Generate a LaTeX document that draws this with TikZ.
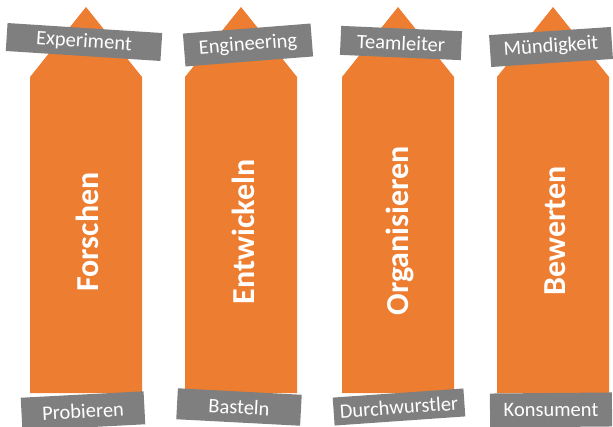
\documentclass[tikz,border=0pt]{standalone}
\usepackage{fontspec}
\setmainfont{Carlito}
\definecolor{pencilorange}{RGB}{237,125,49}
\definecolor{taggray}{RGB}{127,127,127}

\begin{document}
\begin{tikzpicture}[
            x=1pt, y=-1pt,
            pencil/.style={fill=pencilorange, draw=none},
            verb/.style={rotate=90, text=white, font=\fontsize{32}{38}\selectfont\bfseries},
            tag/.style={fill=taggray, text=white, font=\fontsize{20.5}{24}\selectfont, minimum width=122pt, minimum height=30pt, inner sep=0pt}
        ]
            \useasboundingbox (0,0) rectangle (613,426);

            % upright arrows
            \fill[pencil] (30,393) -- (30,77) -- (86,7) -- (142,77) -- (142,393) -- cycle;
            \fill[pencil] (185,393) -- (185,77) -- (241,7) -- (297,77) -- (297,393) -- cycle;
            \fill[pencil] (342,393) -- (342,77) -- (398,7) -- (454,77) -- (454,393) -- cycle;
            \fill[pencil] (497,393) -- (497,77) -- (553,7) -- (609,77) -- (609,393) -- cycle;

            \node[verb] (forschen) at (87,232) {Forschen};
            \node[verb] (entwickeln) at (243,232) {Entwickeln};
            \node[verb] (organisieren) at (400,231) {Organisieren};
            \node[verb] (bewerten) at (555,231) {Bewerten};

            % tags on top
            \node[tag, rotate=-3.7, minimum width=155pt, minimum height=28pt] (experiment) at (84,42) {Experiment};
            \node[tag, rotate=4.5, minimum width=128pt, minimum height=33pt] (engineering) at (248,45) {Engineering};
            \node[tag, rotate=-2.5, minimum width=121pt, minimum height=29pt] (teamleiter) at (401,43) {Teamleiter};
            \node[tag, rotate=3.8, minimum height=32pt] (muendigkeit) at (551,47) {Mündigkeit};

            % tags at the bottom
            \node[tag, rotate=3, minimum width=123pt, minimum height=33pt] (probieren) at (83,411) {Probieren};
            \node[tag, rotate=-3, minimum width=124pt, minimum height=31pt] (basteln) at (239,407) {Basteln};
            \node[tag, rotate=4, minimum width=131pt, minimum height=28pt] (durchwurstler) at (399,407) {Durchwurstler};
            \node[tag, rotate=0.5, minimum height=34pt] (konsument) at (551,410) {Konsument};
        \end{tikzpicture}
\end{document}
